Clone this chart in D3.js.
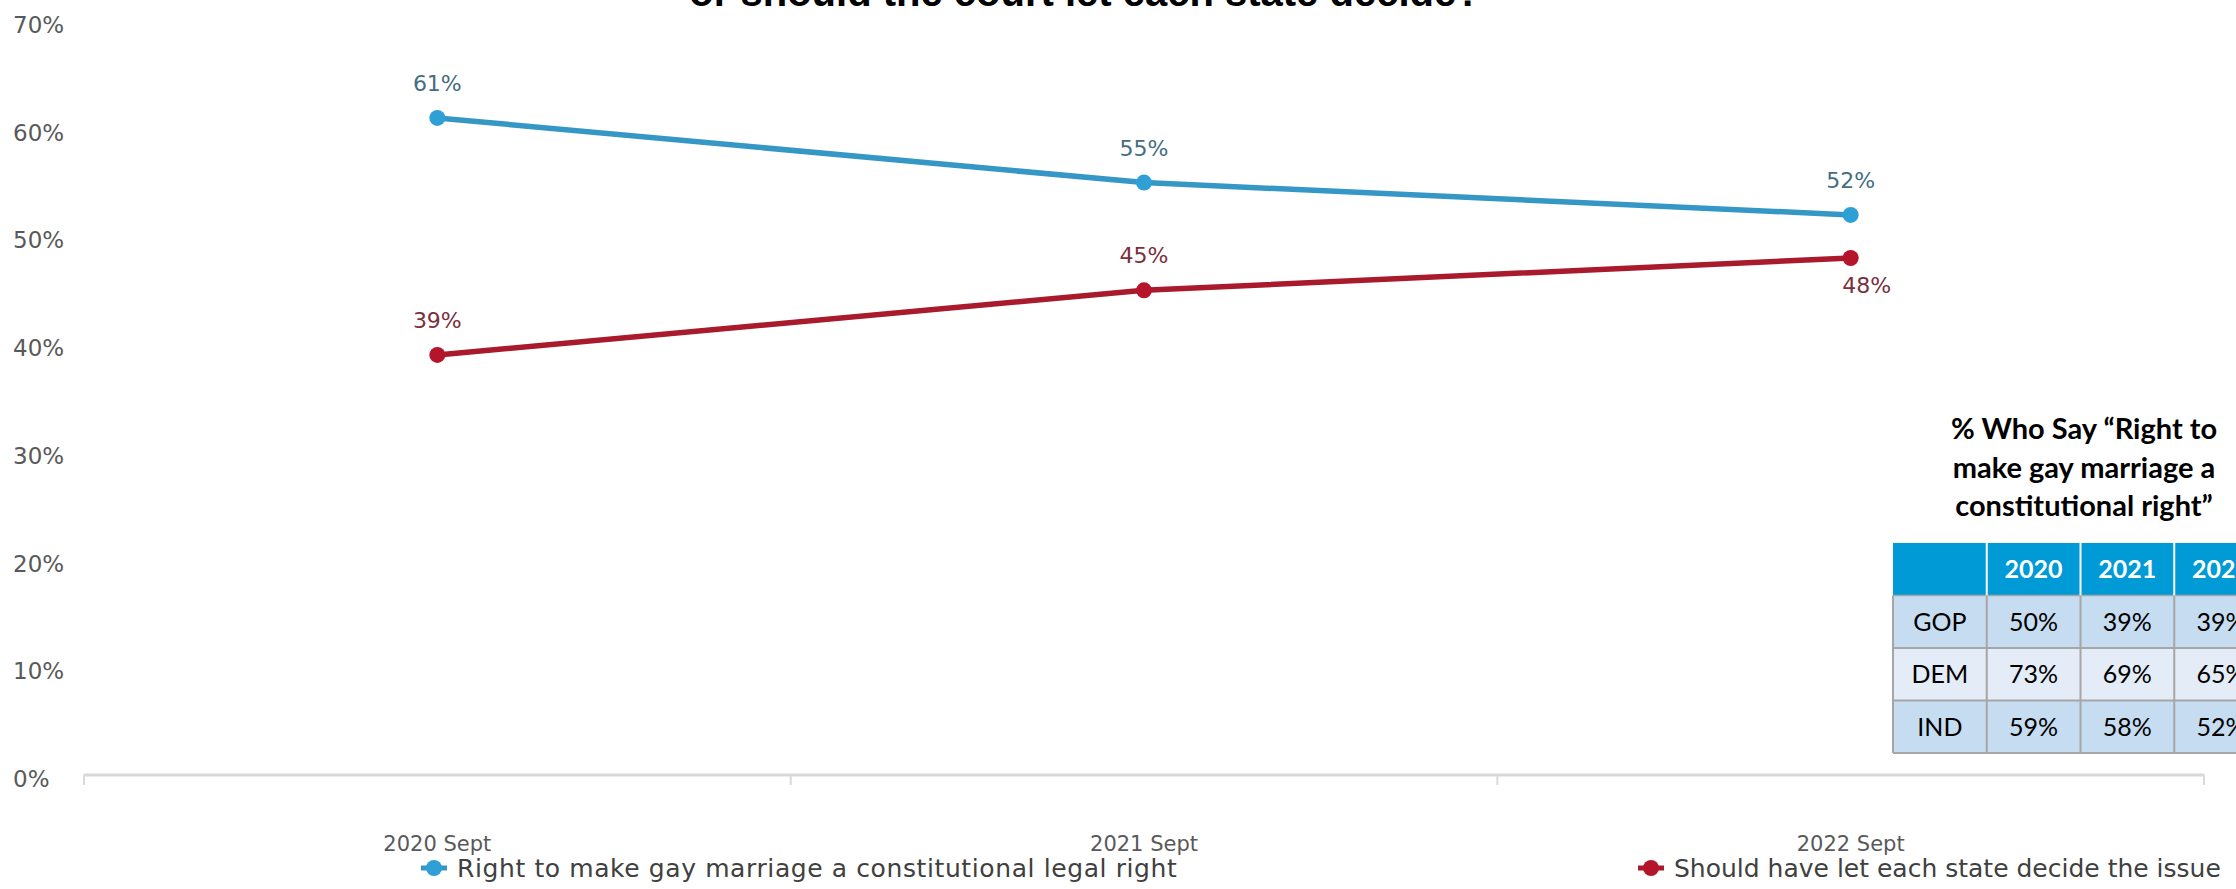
<!DOCTYPE html>
<html>
<head>
<meta charset="utf-8">
<script src="https://cdn.jsdelivr.net/npm/d3@7"></script>
<style>
  html, body { margin: 0; padding: 0; background: #ffffff; overflow: hidden; }
  svg { display: block; }
</style>
</head>
<body>
<svg id="chart" width="2236" height="889"></svg>
<script>
// ---------------- data ----------------
const categories = ["2020 Sept", "2021 Sept", "2022 Sept"];
const seriesNames = ["Right to make gay marriage a constitutional legal right", "Should have let each state decide the issue"];
const rightValues = [61, 55, 52];
const stateValues = [39, 45, 48];
const yTicks = [0, 10, 20, 30, 40, 50, 60, 70];
const titleText = "or should the court let each state decide?";
const tableTitle = ["% Who Say \u201CRight to", "make gay marriage a", "constitutional right\u201D"];
const tableYears = ["2020", "2021", "2022"];
const parties = ["GOP", "DEM", "IND"];
const gopValues = [50, 39, 39];
const demValues = [73, 69, 65];
const indValues = [59, 58, 52];

// ---------------- layout ----------------
const W = 2236, H = 889;
const svg = d3.select("#chart");
svg.append("rect").attr("width", W).attr("height", H).attr("fill", "#ffffff");

const x = d3.scaleBand().domain(categories).range([84, 2204]).padding(0);
const y = d3.scaleLinear().domain([0, 70]).range([775, 21]);
const cx = c => x(c) + x.bandwidth() / 2;

const FONT = "'DejaVu Sans', Verdana, sans-serif";

// clipped title at top
svg.append("text")
  .attr("x", 1085).attr("y", 6)
  .attr("text-anchor", "middle")
  .attr("font-family", "'Liberation Sans', Arial, sans-serif")
  .attr("font-weight", "bold")
  .attr("font-size", 40)
  .attr("fill", "#000")
  .text(titleText);

// y tick labels
svg.append("g").selectAll("text").data(yTicks).join("text")
  .attr("x", 13).attr("y", d => y(d) + 12)
  .attr("font-family", FONT).attr("font-size", 23)
  .attr("fill", "#595959")
  .text(d => d + "%");

// x axis line + ticks between categories
const ax = svg.append("g");
ax.append("line")
  .attr("x1", x.range()[0]).attr("x2", x.range()[1])
  .attr("y1", y(0)).attr("y2", y(0))
  .attr("stroke", "#d9d9d9").attr("stroke-width", 3);
const bounds = categories.map(c => x(c)).concat([x.range()[1]]);
ax.selectAll("line.tk").data(bounds).join("line").attr("class", "tk")
  .attr("x1", d => d).attr("x2", d => d)
  .attr("y1", y(0)).attr("y2", y(0) + 10)
  .attr("stroke", "#d9d9d9").attr("stroke-width", 2);
ax.selectAll("text").data(categories).join("text")
  .attr("x", d => cx(d)).attr("y", 851)
  .attr("text-anchor", "middle")
  .attr("font-family", FONT).attr("font-size", 21)
  .attr("fill", "#595959")
  .text(d => d);

// series
const series = [
  { name: seriesNames[0], values: rightValues, line: "#3497c6", marker: "#2ea0d6", label: "#456d80" },
  { name: seriesNames[1], values: stateValues, line: "#a81a2c", marker: "#b5152b", label: "#7a2f3d" }
];
const lineGen = d3.line().x((d, i) => cx(categories[i])).y(d => y(d));

series.forEach((s, si) => {
  const g = svg.append("g");
  g.append("path").datum(s.values)
    .attr("d", lineGen)
    .attr("fill", "none")
    .attr("stroke", s.line)
    .attr("stroke-width", 5.5)
    .attr("stroke-linejoin", "round");
  g.selectAll("circle").data(s.values).join("circle")
    .attr("cx", (d, i) => cx(categories[i]))
    .attr("cy", d => y(d))
    .attr("r", 8)
    .attr("fill", s.marker);
  g.selectAll("text").data(s.values).join("text")
    .attr("x", (d, i) => cx(categories[i]) + ((si === 1 && i === s.values.length - 1) ? 16 : 0))
    .attr("y", (d, i) => (si === 1 && i === s.values.length - 1) ? y(d) + 35 : y(d) - 27)
    .attr("text-anchor", "middle")
    .attr("font-family", FONT).attr("font-size", 22)
    .attr("fill", s.label)
    .text(d => d + "%");
});

// legend
const legendX = [434, 1651];
series.forEach((s, si) => {
  const g = svg.append("g").attr("transform", `translate(${legendX[si]},868)`);
  g.append("line").attr("x1", -13).attr("x2", 13).attr("y1", 0).attr("y2", 0)
    .attr("stroke", s.line).attr("stroke-width", 5);
  g.append("circle").attr("r", 8).attr("fill", s.marker);
  g.append("text").attr("x", 23).attr("y", 9)
    .attr("font-family", FONT).attr("font-size", 25)
    .attr("letter-spacing", si === 0 ? 0.6 : 0)
    .attr("fill", "#404040")
    .text(s.name);
});

// table title
const TFONT = "Lato, 'Open Sans', sans-serif";
svg.append("g").selectAll("text").data(tableTitle).join("text")
  .attr("x", 2084).attr("y", (d, i) => 439 + i * 38.5)
  .attr("text-anchor", "middle")
  .attr("font-family", TFONT).attr("font-weight", "bold")
  .attr("font-size", 29).attr("fill", "#000")
  .text(d => d);

// table
const cols = [""].concat(tableYears);
const rowsKeys = ["header"].concat(parties);
const tx = d3.scaleBand().domain(cols).range([1893, 2268]);
const ty = d3.scaleBand().domain(rowsKeys).range([543, 753]);
const rowValues = { GOP: gopValues, DEM: demValues, IND: indValues };
const rowFill = { header: "#009ad6", GOP: "#c6dcf0", DEM: "#e4ecf7", IND: "#c6dcf0" };

const tg = svg.append("g");
rowsKeys.forEach(r => {
  tg.append("rect")
    .attr("x", tx.range()[0]).attr("y", ty(r))
    .attr("width", tx.range()[1] - tx.range()[0]).attr("height", ty.bandwidth())
    .attr("fill", rowFill[r]);
});
tg.selectAll("line.h").data(parties).join("line").attr("class", "h")
  .attr("x1", tx.range()[0]).attr("x2", tx.range()[1])
  .attr("y1", d => ty(d) + ty.bandwidth()).attr("y2", d => ty(d) + ty.bandwidth())
  .attr("stroke", "#a6a6a6").attr("stroke-width", 2);
tg.append("line")
  .attr("x1", tx.range()[0]).attr("x2", tx.range()[1])
  .attr("y1", ty("GOP")).attr("y2", ty("GOP"))
  .attr("stroke", "#a6a6a6").attr("stroke-width", 1.5);
tg.append("line")
  .attr("x1", tx.range()[0]).attr("x2", tx.range()[0])
  .attr("y1", ty("GOP")).attr("y2", ty.range()[1])
  .attr("stroke", "#a6a6a6").attr("stroke-width", 2);
cols.slice(1).forEach(c => {
  tg.append("line")
    .attr("x1", tx(c)).attr("x2", tx(c))
    .attr("y1", ty("header")).attr("y2", ty("GOP"))
    .attr("stroke", "#ffffff").attr("stroke-width", 2);
  tg.append("line")
    .attr("x1", tx(c)).attr("x2", tx(c))
    .attr("y1", ty("GOP")).attr("y2", ty.range()[1])
    .attr("stroke", "#a6a6a6").attr("stroke-width", 2);
});
tg.selectAll("text.hd").data(tableYears).join("text").attr("class", "hd")
  .attr("x", d => tx(d) + tx.bandwidth() / 2)
  .attr("y", ty("header") + ty.bandwidth() / 2 + 9)
  .attr("text-anchor", "middle")
  .attr("font-family", TFONT).attr("font-weight", "bold")
  .attr("font-size", 25).attr("fill", "#ffffff")
  .text(d => d);
parties.forEach(p => {
  const cells = [p].concat(rowValues[p].map(v => v + "%"));
  tg.selectAll("text.r" + p).data(cells).join("text").attr("class", "r" + p)
    .attr("x", (d, i) => tx(cols[i]) + tx.bandwidth() / 2)
    .attr("y", ty(p) + ty.bandwidth() / 2 + 9)
    .attr("text-anchor", "middle")
    .attr("font-family", TFONT)
    .attr("font-size", 25).attr("fill", "#000")
    .text(d => d);
});
</script>
</body>
</html>
